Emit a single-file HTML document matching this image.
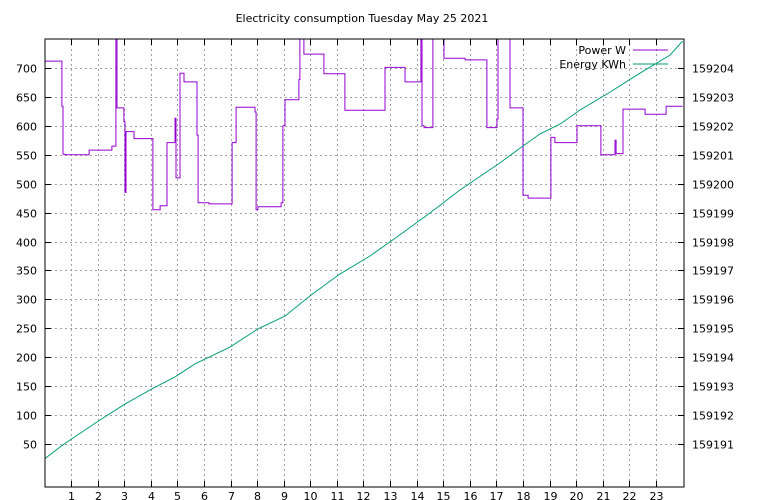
<!DOCTYPE html>
<html><head><meta charset="utf-8"><style>
html,body{margin:0;padding:0;background:#fff;}
svg{display:block;font-family:"DejaVu Sans","Liberation Sans",sans-serif;font-size:11px;}
</style></head><body>
<svg id="chart" width="768" height="500" viewBox="0 0 768 500">
<defs><clipPath id="plotclip"><rect x="45" y="39" width="639" height="448"/></clipPath></defs>
<rect x="0" y="0" width="768" height="500" fill="#fff"/>
<text x="362" y="22" text-anchor="middle" fill="#000">Electricity consumption Tuesday May 25 2021</text>
<g id="grid"></g>
<g id="series" clip-path="url(#plotclip)"></g>
<rect x="45" y="39" width="639" height="448" fill="none" stroke="#000" stroke-width="1"/>
<g id="axes"></g>
<g>
<text x="626" y="54" text-anchor="end">Power W</text>
<line x1="633" y1="50" x2="668" y2="50" stroke="#9400d3" stroke-width="1"/>
<text x="626" y="68" text-anchor="end">Energy KWh</text>
<line x1="633" y1="64" x2="668" y2="64" stroke="#009e73" stroke-width="1"/>
</g>
</svg>
<script>
const xTicks=[1,2,3,4,5,6,7,8,9,10,11,12,13,14,15,16,17,18,19,20,21,22,23];
const wTicks=[50,100,150,200,250,300,350,400,450,500,550,600,650,700];
const eTicks=[159191,159192,159193,159194,159195,159196,159197,159198,159199,159200,159201,159202,159203,159204];
const powerHours=[0,0.66,0.70,0.77,1.68,2.54,2.69,2.73,2.99,3.03,3.07,3.37,4.08,4.35,4.61,4.91,4.95,5.10,5.25,5.74,5.78,6.19,7.06,7.21,7.92,7.96,8.03,8.90,8.97,9.05,9.57,9.61,9.76,10.51,11.30,12.81,13.56,14.16,14.20,14.28,14.61,15.03,15.82,16.64,17.02,17.06,17.51,18.00,18.19,19.05,19.20,20.03,20.93,21.46,21.50,21.76,22.59,23.38];
const powerWatts=[712,634,551,550,558,565,800,631,607,485,590,578,455,462,571,613,510,691,676,584,467,465,571,632,624,455,460,467,600,645,680,800,724,690,627,701,676,800,600,597,800,717,714,597,612,800,631,480,475,580,571,600,550,575,552,629,620,634];
const energyHours=[0,0.74,2.09,3.03,3.97,4.91,5.66,6.98,8.03,9.05,9.99,11.12,12.24,13.37,14.50,15.63,17.13,17.89,18.64,19.39,20.15,21.28,22.41,23.53,24];
const energyKWh=[159190.48,159191.0,159191.83,159192.38,159192.87,159193.32,159193.77,159194.35,159194.98,159195.42,159196.12,159196.88,159197.50,159198.23,159198.99,159199.78,159200.72,159201.23,159201.72,159202.06,159202.55,159203.17,159203.83,159204.45,159204.93];

const NS='http://www.w3.org/2000/svg';
const L=45,R=684,T=39,B=487;
const xs=h=>44.4+h*26.59;
const yW=v=>68+(700-v)*28.92/50;
const yE=e=>68+(159204-e)*28.92;
function mk(tag,attrs,parent){const el=document.createElementNS(NS,tag);for(const k in attrs)el.setAttribute(k,attrs[k]);parent.appendChild(el);return el;}
const grid=document.getElementById('grid'),axes=document.getElementById('axes'),series=document.getElementById('series');
const gs={stroke:'#a0a0a0','stroke-width':1,'stroke-dasharray':'2,3'};
xTicks.forEach(t=>{const x=Math.round(xs(t))+0.5;
 const g=mk('line',Object.assign({x1:x,y1:T,x2:x,y2:B},gs),grid);
 
 
 const a=mk('line',{x1:x,y1:B,x2:x,y2:B-6,stroke:'#000'},axes);
 
 
 const b=mk('line',{x1:x,y1:T,x2:x,y2:T+6,stroke:'#000'},axes);
 
 
 const tx=mk('text',{x:x,y:B+13,'text-anchor':'middle'},axes);tx.textContent=t;
 
 
});
wTicks.forEach(t=>{const y=Math.round(yW(t))+0.5;
 const g=mk('line',Object.assign({x1:L,y1:y,x2:R,y2:y},gs),grid);
 
 
 const a=mk('line',{x1:L,y1:y,x2:L+6,y2:y,stroke:'#000'},axes);
 
 
 const tx=mk('text',{x:37,y:y+4,'text-anchor':'end'},axes);tx.textContent=t;
 
 
});
eTicks.forEach(t=>{const y=Math.round(yE(t))+0.5;
 const a=mk('line',{x1:R,y1:y,x2:R-6,y2:y,stroke:'#000'},axes);
 
 
 const tx=mk('text',{x:692,y:y+4,'text-anchor':'start'},axes);tx.textContent=t;
 
 
});
let d='';
powerHours.forEach((h,i)=>{const x=xs(h).toFixed(1),y=yW(powerWatts[i]).toFixed(1);
 if(i===0)d+='M'+x+','+y;else d+='H'+x+'V'+y;});
d+='H'+xs(24).toFixed(1);
const p=mk('path',{d:d,fill:'none',stroke:'#9400d3','stroke-width':1},series);


const ep=energyHours.map((h,i)=>xs(h).toFixed(1)+','+yE(energyKWh[i]).toFixed(1)).join(' ');
const e=mk('polyline',{points:ep,fill:'none',stroke:'#009e73','stroke-width':1},series);


</script>
</body></html>
